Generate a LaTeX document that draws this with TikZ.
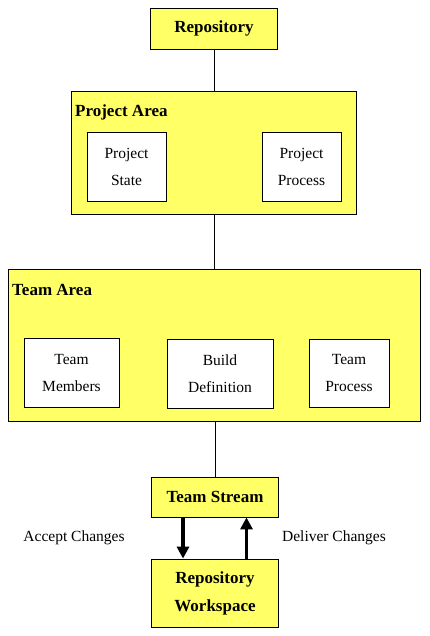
\documentclass[tikz,border=0pt]{standalone}
\usepackage{fontspec}
\setmainfont{Liberation Serif}
\usepackage{tikz}
\usetikzlibrary{arrows.meta, positioning}
\definecolor{areayellow}{RGB}{255,255,102}
\tikzset{
    diagram/.style={font=\fontsize{15}{27}\selectfont},
    area box/.style={draw, fill=areayellow, line width=0.8pt, inner sep=0pt,
        align=center, font=\fontsize{17}{28}\selectfont\bfseries},
    item box/.style={draw, fill=white, line width=0.8pt, inner sep=0pt,
        align=center, font=\fontsize{15.5}{27}\selectfont},
    area title/.style={anchor=west, inner sep=0pt, font=\fontsize{17}{20}\selectfont\bfseries},
    diagram connector/.style={line width=1pt},
    diagram arrow/.style={-{Triangle[length=12pt, width=12pt]}, line width=3.4pt},
    diagram label/.style={inner sep=0pt, font=\fontsize{15.5}{18}\selectfont},
}
\begin{document}
\begin{tikzpicture}[diagram, x=1pt, y=-1pt]

    \useasboundingbox (0,0) rectangle (430,636);

    % Nodes
    \node[area box, minimum width=127pt, minimum height=41pt] (repo) at (214,28.5) {Repository};
    \node[area box, minimum width=285pt, minimum height=123pt] (projarea) at (214,152.5) {};
    \node[area title] (projtitle) at (75,112) {Project Area};
    \node[item box, minimum width=79pt, minimum height=69pt] (pstate) at (126.5,166.5) {Project\\State};
    \node[item box, minimum width=79pt, minimum height=69pt] (pprocess) at (301.5,166.5) {Project\\Process};

    \node[area box, minimum width=412pt, minimum height=152pt] (teamarea) at (214,345) {};
    \node[area title] (teamtitle) at (12,290) {Team Area};
    \node[item box, minimum width=95pt, minimum height=69pt] (tmembers) at (71.5,372.5) {Team\\Members};
    \node[item box, minimum width=106pt, minimum height=69pt] (builddef) at (220,373.5) {Build\\Definition};
    \node[item box, minimum width=80pt, minimum height=68pt] (tprocess) at (349,373) {Team\\Process};

    \node[area box, minimum width=127pt, minimum height=40pt] (stream) at (215,497) {Team Stream};
    \node[area box, minimum width=127pt, minimum height=68pt] (workspace) at (215,593) {Repository\\Workspace};

    \node[diagram label] (accept) at (74,538) {Accept Changes};
    \node[diagram label] (deliver) at (334,538) {Deliver Changes};

    % Connectors
    \draw[diagram connector] (repo.south) -- (projarea.north);
    \draw[diagram connector] (projarea.south) -- (teamarea.north);
    \draw[diagram connector] (stream.north |- teamarea.south) -- (stream.north);

    % Arrows
    \draw[diagram arrow] ([xshift=-32pt]stream.south) -- ([xshift=-32pt]workspace.north);
    \draw[diagram arrow] ([xshift=31.5pt]workspace.north) -- ([xshift=31.5pt]stream.south);

\end{tikzpicture}
\end{document}
